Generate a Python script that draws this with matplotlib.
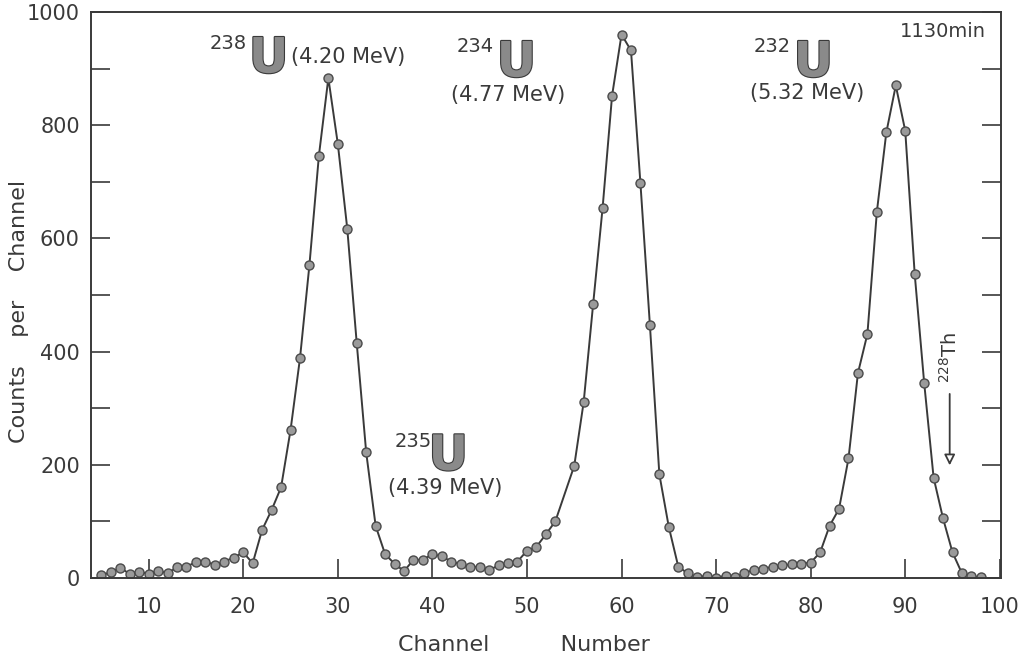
import matplotlib
matplotlib.use("Agg")
import matplotlib.pyplot as plt
import matplotlib.patheffects as pe
from matplotlib.ticker import MultipleLocator

# Alpha spectrum of a uranium sample, 1130 min counting time
channels = [5, 6, 7, 8, 9, 10, 11, 12, 13, 14, 15, 16, 17, 18, 19, 20,
            21, 22, 23, 24, 25, 26, 27, 28, 29, 30, 31, 32, 33, 34, 35,
            36, 37, 38, 39, 40, 41, 42, 43, 44, 45, 46, 47, 48, 49, 50,
            51, 52, 53, 55, 56, 57, 58, 59, 60, 61, 62, 63, 64, 65,
            66, 67, 68, 69, 70, 71, 72, 73, 74, 75, 76, 77, 78, 79, 80,
            81, 82, 83, 84, 85, 86, 87, 88, 89, 90, 91, 92, 93, 94, 95,
            96, 97, 98]
counts = [5, 10, 18, 7, 11, 7, 13, 8, 19, 20, 28, 29, 23, 29, 36, 45,
          26, 85, 120, 160, 261, 388, 553, 746, 883, 767, 617, 415, 222, 92, 42,
          25, 12, 32, 32, 42, 38, 29, 24, 19, 20, 14, 22, 26, 29, 48,
          55, 77, 100, 198, 311, 484, 654, 852, 960, 932, 697, 447, 183, 90,
          20, 8, 1, 4, 0, 4, 1, 9, 14, 16, 20, 22, 24, 25, 27,
          45, 92, 122, 211, 362, 431, 647, 787, 870, 790, 537, 345, 177, 105, 45,
          8, 3, 1]

x_ticks = [10, 20, 30, 40, 50, 60, 70, 80, 90, 100]
y_ticks = [0, 200, 400, 600, 800, 1000]

peaks = ["238", "234", "232", "235"]
energies = ["(4.20 MeV)", "(4.77 MeV)", "(5.32 MeV)", "(4.39 MeV)"]

INK = "#3a3a3a"
plt.rcParams["font.family"] = ["DejaVu Sans"]

fig = plt.figure(figsize=(10.28, 6.62), dpi=100)
ax = fig.add_axes([0.0885, 0.127, 0.885, 0.855])

ax.plot(channels, counts, color=INK, lw=1.4, zorder=2,
        marker="o", markersize=6.5, markerfacecolor="#9a9a9a",
        markeredgecolor="#4a4a4a", markeredgewidth=1.0)

ax.set_xlim(3.9, 100.1)
ax.set_ylim(0, 1000)
ax.set_xticks(x_ticks)
ax.set_yticks(y_ticks)
ax.yaxis.set_minor_locator(MultipleLocator(100))
ax.tick_params(axis="both", which="both", direction="in", length=14,
               width=1.2, color=INK, labelcolor=INK, labelsize=15)
ax.tick_params(axis="y", which="both", right=True, pad=8)
ax.tick_params(axis="x", which="both", top=False, pad=14)
for s in ax.spines.values():
    s.set_color(INK)
    s.set_linewidth(1.4)

fig.text(0.51, 0.026, "Channel          Number", fontsize=16, color=INK,
         ha="center", va="center")
fig.text(0.018, 0.529, "Counts    per    Channel", fontsize=16, color=INK,
         ha="center", va="center", rotation=90)

big_u = dict(fontsize=35, fontweight="bold", color="#8a8a8a",
             path_effects=[pe.withStroke(linewidth=1.6, foreground="#3a3a3a")])
sup = dict(fontsize=14, color=INK)
en = dict(fontsize=15, color=INK, va="center")

# (mass-number position, U position, energy position) in data coordinates
layout = [
    ((16.4, 935), (20.6, 893), (25.1, 920)),
    ((42.6, 930), (46.8, 886), (42.0, 853)),
    ((74.0, 930), (78.2, 886), (73.6, 857)),
    ((36.0, 232), (39.6, 191), (35.3, 158)),
]
for mass, energy, (pm, pu, pen) in zip(peaks, energies, layout):
    ax.text(pm[0], pm[1], mass, ha="left", va="baseline", **sup)
    ax.text(pu[0], pu[1], "U", ha="left", va="baseline", **big_u)
    ax.text(pen[0], pen[1], energy, ha="left", **en)

ax.text(89.4, 965, "1130min", fontsize=14, color=INK, ha="left", va="center")

ax.text(94.7, 390, r"$^{228}$Th", rotation=90, fontsize=14, color=INK,
        ha="center", va="center")
ax.annotate("", xy=(94.7, 194), xytext=(94.7, 330),
            arrowprops=dict(arrowstyle="-|>", color=INK, lw=1.3,
                            mutation_scale=16, fc="white"))

fig.savefig("out.png", dpi=100, facecolor="white")
